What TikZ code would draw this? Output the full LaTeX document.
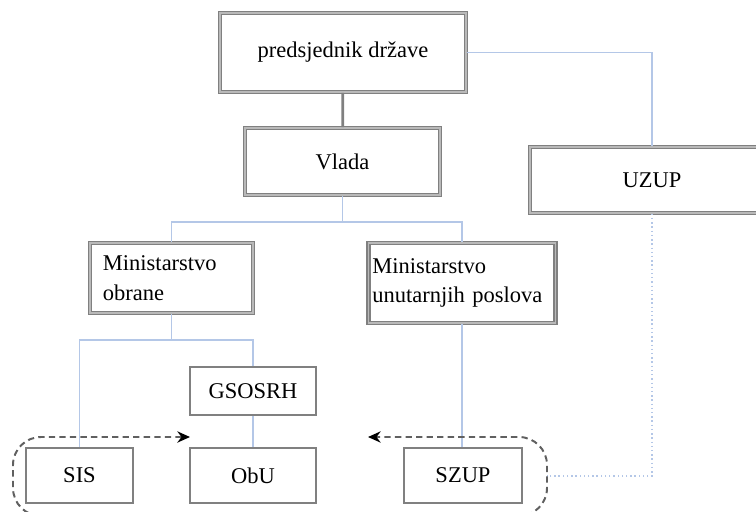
\documentclass[tikz,border=0pt]{standalone}
\usepackage{fontspec}
\usetikzlibrary{arrows.meta}
\setmainfont{Liberation Serif}
\definecolor{linkblue}{RGB}{180,199,231}
\definecolor{boxgray}{RGB}{128,128,128}
\definecolor{loopgray}{RGB}{96,96,96}

\begin{document}
\begin{tikzpicture}[x=0.025cm,y=-0.025cm,>={Stealth[length=9pt,width=8pt,color=black]},font=\fontsize{16}{21}\selectfont,
    dbox/.style={rectangle,draw=boxgray,double=boxgray!55,double distance=0.8pt,line width=1.1pt,fill=white,inner sep=0pt},
    sbox/.style={rectangle,draw=boxgray,line width=1.1pt,fill=white,inner sep=0pt},
    link/.style={draw=linkblue,line width=1pt},
    loop/.style={draw=loopgray,line width=1.4pt,dash pattern=on 4.5pt off 3pt,rounded corners=0.7cm}]
                        \useasboundingbox (0,0) rectangle (756,512);

                        \node[dbox,minimum width=6.15cm,minimum height=1.975cm] (pres) at (343,52.5) {predsjednik države};
                        \node[dbox,minimum width=4.875cm,minimum height=1.675cm] (vlada) at (342.5,161.5) {Vlada};
                        \node[dbox,minimum width=6.1cm,minimum height=1.65cm] (uzup) at (652,180) {UZUP};
                        \node[dbox,minimum height=1.75cm,inner xsep=0.325cm,text width=3.425cm,align=left] (mo) at (171.5,278) {Ministarstvo\\obrane};
                        \node[dbox,minimum height=2cm,inner xsep=0.1cm,text width=4.475cm,align=left] (mup) at (462,283) {Ministarstvo\\unutarnjih poslova};
                        \node[sbox,minimum width=3.15cm,minimum height=1.2cm] (gsosrh) at (253,391) {GSOSRH};
                        \node[sbox,minimum width=2.675cm,minimum height=1.375cm] (sis) at (79.5,475.5) {SIS};
                        \node[sbox,minimum width=3.15cm,minimum height=1.375cm] (obu) at (253,475.5) {ObU};
                        \node[sbox,minimum width=2.95cm,minimum height=1.375cm] (szup) at (463,475.5) {SZUP};

                        \coordinate (vj) at (342.5,222);
                        \coordinate (mj) at (171.5,340);
                        \coordinate (sisloop) at (70,516);
                        \coordinate (sistip) at (190,437);
                        \coordinate (szuploop) at (505,516);
                        \coordinate (szuptip) at (368,437);
                        \coordinate (szupside) at (547,476);

                        \draw[boxgray,line width=2pt] (pres) -- (vlada);

                        \path[link]
                            (vlada.south) -- (vj)
                            (mo.north) |- (vj) -| (mup.north)
                            (mup.south) -- (mup.south |- szup.north)
                            (mo.south) -- (mj)
                            (sis.north) |- (mj) -| (gsosrh.north)
                            (gsosrh) -- (obu)
                            (pres.east) -| (uzup.north)
                        ;
                        \draw[linkblue,line width=1pt,dotted] (uzup.south) |- (szupside);

                        \draw[loop,->] (sisloop) -| (13,437) -- (sistip);
                        \draw[loop,->] (szuploop) -| (547,437) -- (szuptip);

                    \end{tikzpicture}
\end{document}
